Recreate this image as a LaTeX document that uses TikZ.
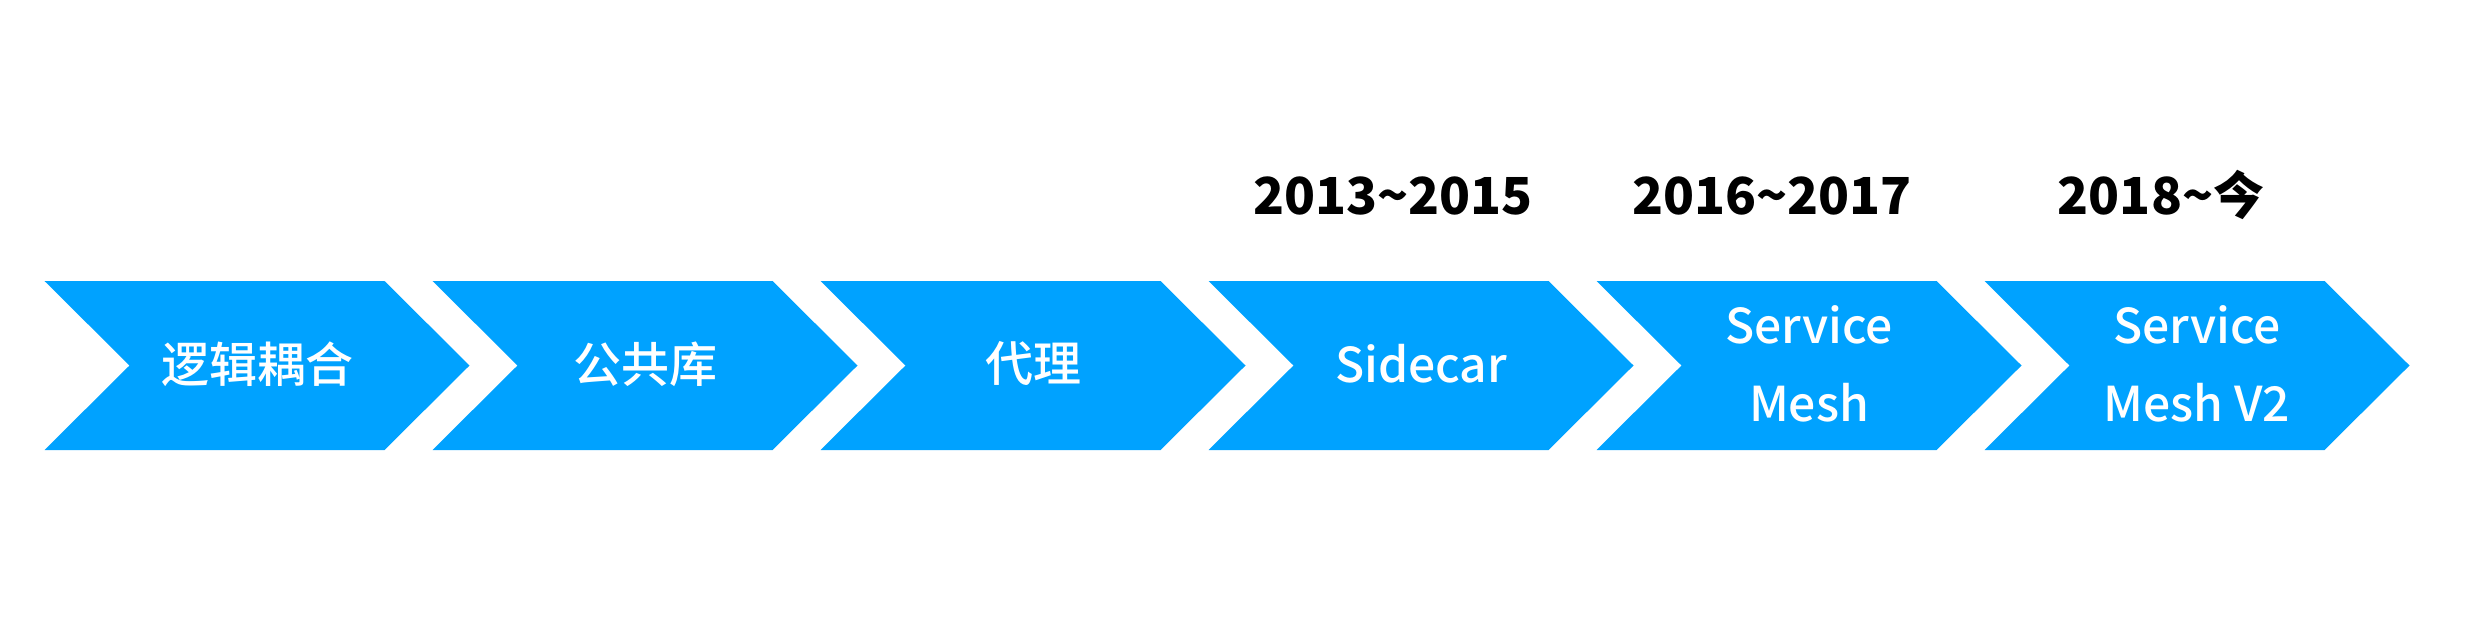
\documentclass[tikz,border=0pt]{standalone}
\usepackage{fontspec}
\setmainfont{Noto Sans CJK SC}
\newfontfamily\medfont{Noto Sans CJK SC Medium}
\definecolor{chevblue}{RGB}{0,162,255}
\tikzset{
  chev/.style={fill=chevblue, draw=none},
  stagelabel/.style={text=white, align=center, inner sep=0pt,
    font=\medfont\fontsize{48}{78}\selectfont},
  yearlabel/.style={text=black, anchor=base, inner sep=0pt,
    font=\fontsize{51}{60}\selectfont\bfseries}
}
\begin{document}
\begin{tikzpicture}[x=1pt,y=-1pt]
\useasboundingbox (0,0) rectangle (2469,622);
\foreach \k in {0,...,5}{
  \pgfmathsetmacro{\L}{44.5+388*\k}
  \fill[chev] (\L,281) -- ({\L+340},281) -- ({\L+425},365.5) -- ({\L+340},450) -- (\L,450) -- ({\L+85},365.5) -- cycle;
}
\node[stagelabel] (s1) at (257,364) {逻辑耦合};
\node[stagelabel] (s2) at (645,364) {公共库};
\node[stagelabel] (s3) at (1033,364) {代理};
\node[stagelabel] (s4) at (1421,364) {Sidecar};
\node[stagelabel] (s5) at (1809,364) {Service\\Mesh};
\node[stagelabel] (s6) at (2197,364) {Service\\Mesh V2};
\node[yearlabel] (y1) at (1393,214) {2013\textasciitilde 2015};
\node[yearlabel] (y2) at (1772,214) {2016\textasciitilde 2017};
\node[yearlabel] (y3) at (2161,214) {2018\textasciitilde 今};
\end{tikzpicture}
\end{document}
